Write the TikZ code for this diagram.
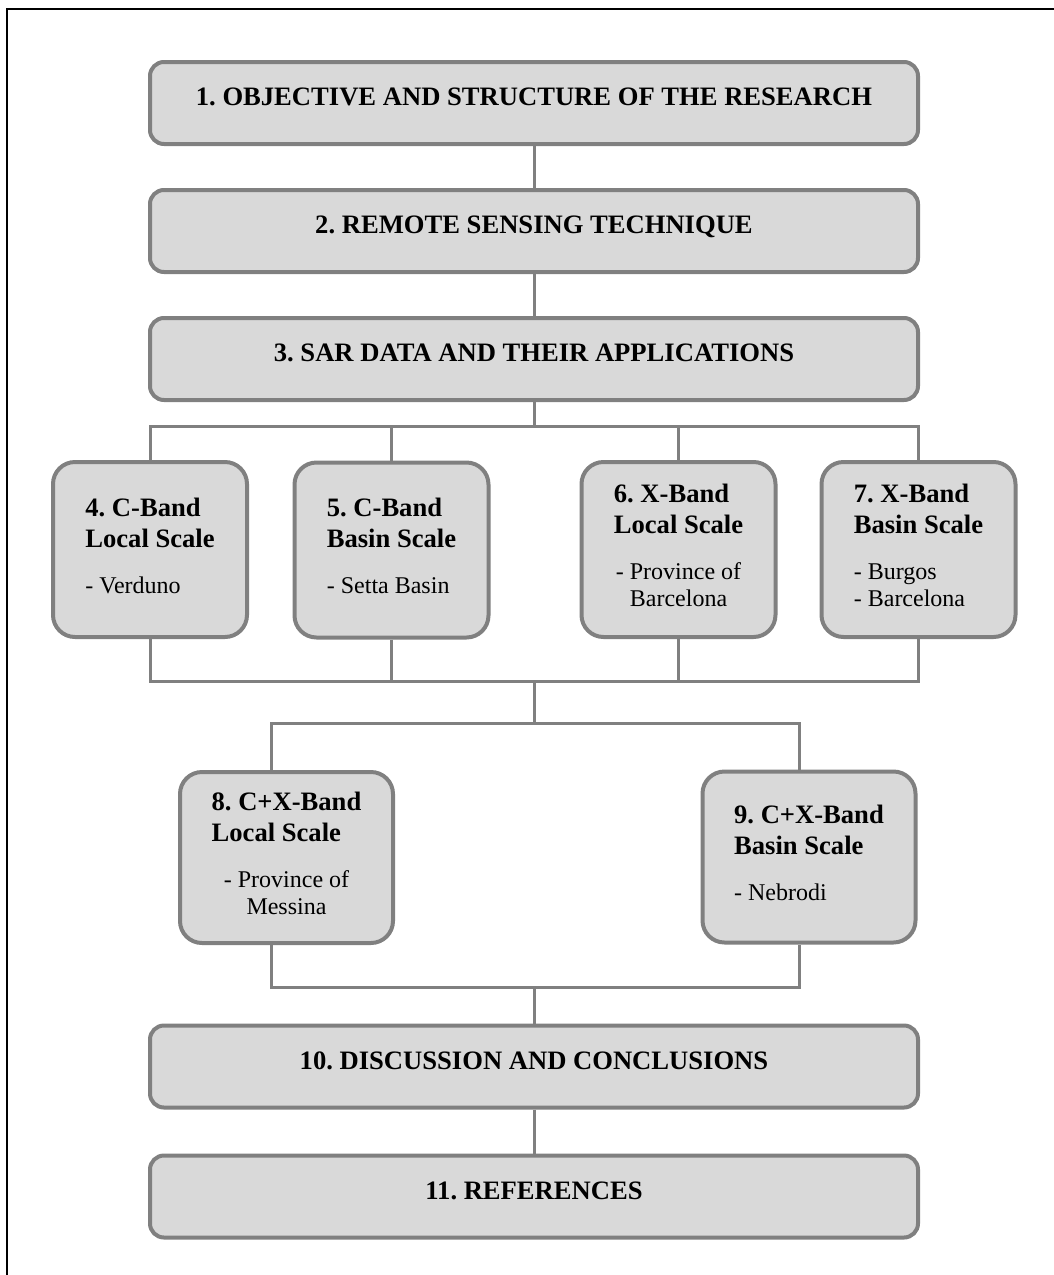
\documentclass[tikz,border=0pt]{standalone}
\usepackage{fontspec}
\setmainfont{Liberation Serif}
\usetikzlibrary{positioning}
\definecolor{boxfill}{HTML}{D9D9D9}
\definecolor{boxline}{HTML}{808080}
\newcommand{\bandfont}{\fontsize{13.3}{16}\selectfont\bfseries}
\frenchspacing

\begin{document}
\begin{tikzpicture}[x=0.5pt,y=-0.5pt,
    chapter/.style={draw=boxline,fill=boxfill,line width=2pt,rounded corners=7pt,
      minimum width=384pt,minimum height=41pt,text depth=6pt,font=\bandfont},
    band/.style={draw=boxline,fill=boxfill,line width=2pt,rounded corners=11pt,
      minimum width=97pt,minimum height=87.5pt,inner sep=0pt,
      font=\fontsize{12}{13.5}\selectfont},
    wideband/.style={band,minimum width=106.5pt,minimum height=85.5pt},
    link/.style={draw=boxline,line width=1.5pt}]
  \useasboundingbox (0,0) rectangle (1054,1275);
  \draw[line width=1.2pt] (7,1275) -- (7,9) -- (1054,9);

  % chapters on top
  \node[chapter] (h1) at (534,103) {1. OBJECTIVE AND STRUCTURE OF THE RESEARCH};
  \node[chapter] (h2) [below=21pt of h1] {2. REMOTE SENSING TECHNIQUE};
  \node[chapter] (h3) [below=21pt of h2] {3. SAR DATA AND THEIR APPLICATIONS};

  % single band case studies
  \node[band] (b4) at (150,549.5) {\begin{tabular}{@{}l@{}}
      \bandfont 4. C-Band\\[2pt]
      \bandfont Local Scale\\[9.5pt]
      - Verduno
    \end{tabular}};
  \node[band] (b5) at (391.5,550) {\begin{tabular}{@{}l@{}}
      \bandfont 5. C-Band\\[2pt]
      \bandfont Basin Scale\\[9.5pt]
      - Setta Basin
    \end{tabular}};
  \node[band] (b6) at (678.5,549.5) {\begin{tabular}{@{}l@{}}
      \bandfont 6. X-Band\\[2pt]
      \bandfont Local Scale\\[9.5pt]
      \multicolumn{1}{@{}c@{}}{- Province of}\\
      \multicolumn{1}{@{}c@{}}{Barcelona}
    \end{tabular}};
  \node[band] (b7) at (918.5,549.5) {\begin{tabular}{@{}l@{}}
      \bandfont 7. X-Band\\[2pt]
      \bandfont Basin Scale\\[9.5pt]
      - Burgos\\
      - Barcelona
    \end{tabular}};

  % combined bands
  \node[wideband] (b8) at (286.5,857.5) {\begin{tabular}{@{}l@{}}
      \bandfont 8. C+X-Band\\[2pt]
      \bandfont Local Scale\\[9.5pt]
      \multicolumn{1}{@{}c@{}}{- Province of}\\
      \multicolumn{1}{@{}c@{}}{Messina}
    \end{tabular}};
  \node[wideband] (b9) at (809,857) {\begin{tabular}{@{}l@{}}
      \bandfont 9. C+X-Band\\[2pt]
      \bandfont Basin Scale\\[9.5pt]
      - Nebrodi
    \end{tabular}};

  % closing chapters
  \node[chapter] (h10) at (534,1066.5) {10. DISCUSSION AND CONCLUSIONS};
  \node[chapter] (h11) [below=22pt of h10] {11. REFERENCES};

  % connectors
  \coordinate[above=17pt of b4.north] (split);
  \coordinate[below=21pt of b4.south] (merge);
  \coordinate[above=23.5pt of b8.north] (split2);
  \coordinate[below=21pt of b8.south] (merge2);
  \coordinate (in8) at ([xshift=-7.5pt]b8.north);
  \coordinate (in9) at ([xshift=-5pt]b9.north);
  \coordinate (out8) at ([xshift=-7.5pt]b8.south);
  \coordinate (out9) at ([xshift=-5pt]b9.south);

  \draw[link] (h1) -- (h2);
  \draw[link] (h2) -- (h3);
  \draw[link] (h3.south) -- (h3.south |- split);
  \draw[link] (b4.north) |- (b7.north |- split) -- (b7.north);
  \draw[link] (b5.north) -- (b5.north |- split);
  \draw[link] (b6.north) -- (b6.north |- split);
  \draw[link] (b4.south) |- (b7.south |- merge) -- (b7.south);
  \draw[link] (b5.south) -- (b5.south |- merge);
  \draw[link] (b6.south) -- (b6.south |- merge);
  \draw[link] (h3.south |- merge) -- (h3.south |- split2);
  \draw[link] (in8) |- (in9 |- split2) -- (in9);
  \draw[link] (out8) |- (out9 |- merge2) -- (out9);
  \draw[link] (h10.north |- merge2) -- (h10.north);
  \draw[link] (h10) -- (h11);
\end{tikzpicture}
\end{document}
